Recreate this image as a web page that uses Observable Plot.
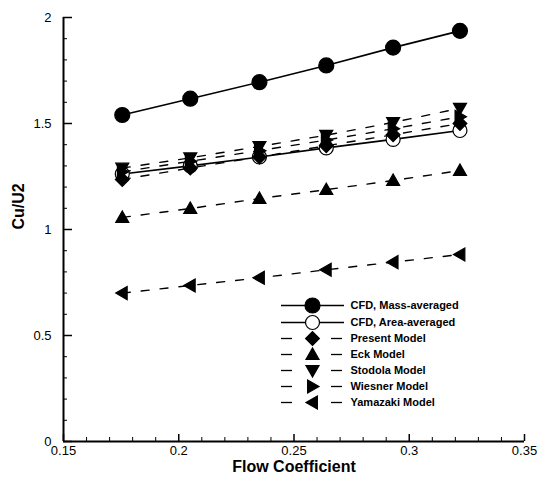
<!DOCTYPE html>
<html>
<head>
<meta charset="utf-8">
<script src="https://cdn.jsdelivr.net/npm/d3@7"></script>
<script src="https://cdn.jsdelivr.net/npm/@observablehq/plot@0.6"></script>
<style>
  body { margin: 0; background: #fff; }
  #chart svg { display: block; }
</style>
</head>
<body>
<div id="chart"></div>
<script>
// ---- data ----
const flowCoefficient = [0.1755, 0.205, 0.235, 0.264, 0.293, 0.322];
const cfdMass   = [1.540, 1.617, 1.695, 1.774, 1.858, 1.937];
const cfdArea   = [1.262, 1.300, 1.342, 1.385, 1.425, 1.467];
const present   = [1.236, 1.290, 1.342, 1.395, 1.447, 1.500];
const eck       = [1.057, 1.099, 1.146, 1.188, 1.231, 1.278];
const stodola   = [1.290, 1.338, 1.392, 1.445, 1.505, 1.572];
const wiesner   = [1.272, 1.322, 1.372, 1.422, 1.475, 1.532];
const yamazaki  = [0.700, 0.736, 0.772, 0.810, 0.846, 0.882];

const seriesNames = ["CFD, Mass-averaged", "CFD, Area-averaged", "Present Model", "Eck Model", "Stodola Model", "Wiesner Model", "Yamazaki Model"];
const xTicks = [0.15, 0.2, 0.25, 0.3, 0.35];
const xTickLabels = ["0.15", "0.2", "0.25", "0.3", "0.35"];
const yTicks = [0, 0.5, 1, 1.5, 2];
const yTickLabels = ["0", "0.5", "1", "1.5", "2"];

// ---- symbols ----
const R = (size) => Math.sqrt(size / Math.PI);
const symDiamond = {draw(c, s){const r=R(s)*1.15; c.moveTo(0,-r); c.lineTo(r,0); c.lineTo(0,r); c.lineTo(-r,0); c.closePath();}};
const symUp = {draw(c, s){const r=R(s); c.moveTo(-r,0.75*r); c.lineTo(r,0.75*r); c.lineTo(0,-r); c.closePath();}};
const symDown = {draw(c, s){const r=R(s); c.moveTo(-r,-0.75*r); c.lineTo(r,-0.75*r); c.lineTo(0,r); c.closePath();}};
const symRight = {draw(c, s){const r=R(s); c.moveTo(-0.75*r,-r); c.lineTo(-0.75*r,r); c.lineTo(r,0); c.closePath();}};
const symLeft = {draw(c, s){const r=R(s); c.moveTo(0.75*r,-r); c.lineTo(0.75*r,r); c.lineTo(-r,0); c.closePath();}};

const seriesDefs = [
  {name: seriesNames[0], values: cfdMass,  symbol: "circle", fill: "black", r: 7.5, dashed: false},
  {name: seriesNames[1], values: cfdArea,  symbol: "circle", fill: "white", r: 7,   dashed: false},
  {name: seriesNames[2], values: present,  symbol: symDiamond, fill: "black", r: 6, dashed: true},
  {name: seriesNames[3], values: eck,      symbol: symUp,    fill: "black", r: 6.5, dashed: true},
  {name: seriesNames[4], values: stodola,  symbol: symDown,  fill: "black", r: 6.5, dashed: true},
  {name: seriesNames[5], values: wiesner,  symbol: symRight, fill: "black", r: 6.5, dashed: true},
  {name: seriesNames[6], values: yamazaki, symbol: symLeft,  fill: "black", r: 6.5, dashed: true}
];

const W = 539, H = 479;
const mL = 63, mR = 15, mT = 17, mB = 38;
const xDomain = [0.15, 0.35], yDomain = [0, 2];
// pixel -> data helpers for legend layout
const xs = d3.scaleLinear(xDomain, [mL, W - mR]);
const ys = d3.scaleLinear(yDomain, [H - mB, mT]);

const xMinor = d3.range(15, 36).map(d => d / 100).filter(d => !xTicks.some(t => Math.abs(t - d) < 1e-9));
const yMinor = d3.range(0, 21).map(d => d / 10).filter(d => !yTicks.some(t => Math.abs(t - d) < 1e-9));

const marks = [];
// series lines
for (const s of seriesDefs) {
  const rows = flowCoefficient.map((x, i) => ({x, y: s.values[i]}));
  marks.push(Plot.line(rows, {x: "x", y: "y", stroke: "black", strokeWidth: s.dashed ? 1.4 : 1.6,
    strokeDasharray: s.dashed ? "8,11" : null}));
}
for (const s of seriesDefs) {
  const rows = flowCoefficient.map((x, i) => ({x, y: s.values[i]}));
  marks.push(Plot.dot(rows, {x: "x", y: "y", r: s.r, symbol: s.symbol, fill: s.fill, stroke: "black", strokeWidth: 1.2}));
}

// legend
const legLineX1 = xs.invert(281), legLineX2 = xs.invert(344), legMarkX = xs.invert(312), legTextX = xs.invert(350);
const legDashL = [xs.invert(281), xs.invert(292)], legDashR = [xs.invert(331), xs.invert(342)];
const legRowsY = [305, 322, 338, 354, 370, 386, 402].map(p => ys.invert(p));
seriesDefs.forEach((s, i) => {
  const y = legRowsY[i];
  if (!s.dashed) {
    marks.push(Plot.ruleY([y], {x1: legLineX1, x2: legLineX2, stroke: "black", strokeWidth: 1.3}));
  } else {
    marks.push(Plot.ruleY([y], {x1: legDashL[0], x2: legDashL[1], stroke: "black", strokeWidth: 1.3}));
    marks.push(Plot.ruleY([y], {x1: legDashR[0], x2: legDashR[1], stroke: "black", strokeWidth: 1.3}));
  }
  marks.push(Plot.dot([{x: legMarkX, y}], {x: "x", y: "y", r: s.r, symbol: s.symbol, fill: s.fill, stroke: "black", strokeWidth: 1.2}));
  marks.push(Plot.text([s.name], {x: legTextX, y, text: d => d, textAnchor: "start", fontSize: 11, fontWeight: "bold", fill: "black"}));
});

// axes lines
marks.push(Plot.ruleX([xDomain[0]], {stroke: "black", strokeWidth: 2}));
marks.push(Plot.ruleY([yDomain[0]], {stroke: "black", strokeWidth: 2}));
// inward ticks
marks.push(Plot.ruleX(xTicks, {y1: 0, y2: ys.invert(H - mB - 7), stroke: "black", strokeWidth: 1.5}));
marks.push(Plot.ruleX(xMinor, {y1: 0, y2: ys.invert(H - mB - 4), stroke: "black", strokeWidth: 1}));
marks.push(Plot.ruleY(yTicks, {x1: xDomain[0], x2: xs.invert(mL + 9), stroke: "black", strokeWidth: 1.5}));
marks.push(Plot.ruleY(yMinor, {x1: xDomain[0], x2: xs.invert(mL + 4), stroke: "black", strokeWidth: 1}));

// tick labels
marks.push(Plot.axisX(xTicks, {tickSize: 0, tickPadding: 4, tickFormat: (d, i) => xTickLabels[i], fontSize: 13, label: null}));
marks.push(Plot.axisY(yTicks, {tickSize: 0, tickPadding: 12, tickFormat: (d, i) => yTickLabels[i], fontSize: 13, label: null}));
// axis titles
marks.push(Plot.text(["Flow Coefficient"], {frameAnchor: "bottom", dy: 30, fontSize: 16, fontWeight: "bold", fill: "black"}));
marks.push(Plot.text(["Cu/U2"], {frameAnchor: "left", dx: -45, rotate: -90, fontSize: 16, fontWeight: "bold", fill: "black"}));

const chart = Plot.plot({
  width: W, height: H,
  marginLeft: mL, marginRight: mR, marginTop: mT, marginBottom: mB,
  style: {fontFamily: "'Liberation Sans', Arial, sans-serif", background: "white", color: "black"},
  x: {domain: xDomain, axis: null},
  y: {domain: yDomain, axis: null},
  marks
});
document.getElementById("chart").appendChild(chart);
</script>
</body>
</html>
